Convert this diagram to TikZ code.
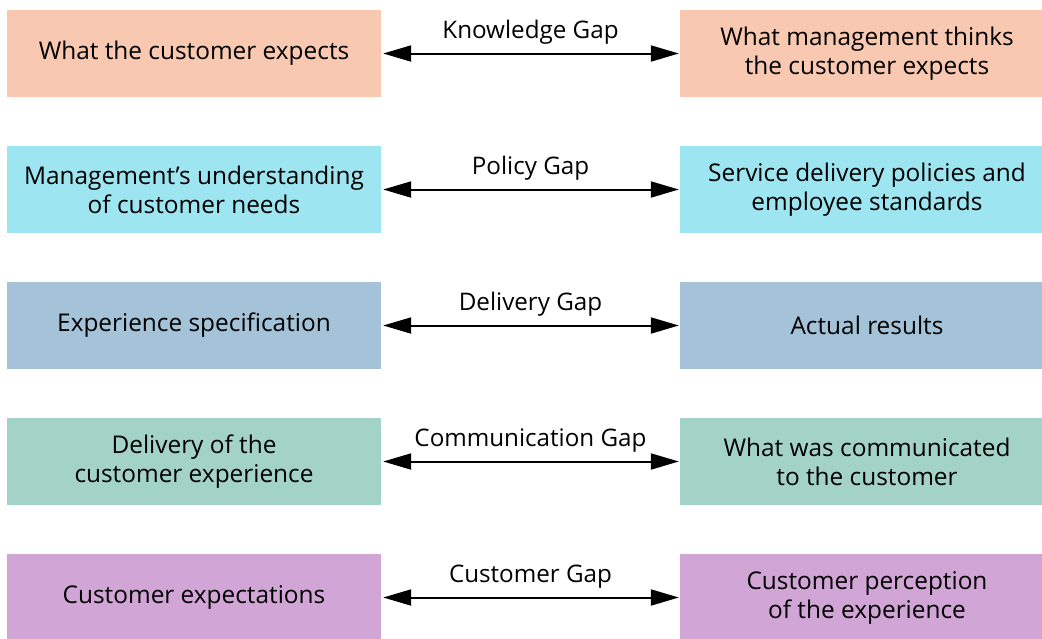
\documentclass[tikz,border=0pt]{standalone}
\usepackage{fontspec}
\setmainfont{Open Sans}
\usetikzlibrary{arrows.meta}
\definecolor{cA}{HTML}{F9C8B0}
\definecolor{cB}{HTML}{9DE5F0}
\definecolor{cC}{HTML}{A4C3D8}
\definecolor{cD}{HTML}{A3D3C7}
\definecolor{cE}{HTML}{D1A5D6}
\tikzset{
  gbox/.style={minimum width=374pt, minimum height=87pt, inner sep=0pt, align=center, font=\fontsize{24.4}{29}\selectfont, text=black},
  gap/.style={{Triangle[length=28pt,width=16pt]}-{Triangle[length=28pt,width=16pt]}, line width=2pt, shorten <=2pt, shorten >=1pt},
  glabel/.style={font=\fontsize{24.2}{28}\selectfont, above, inner sep=0pt}
}
\begin{document}
\begin{tikzpicture}[x=1pt,y=-1pt]
\useasboundingbox[clip] (0,0) rectangle (1042,638);
\node[gbox, fill=cA] (l1) at (194,53.5) {What the customer expects};
\node[gbox, fill=cA] (r1) at (867,53.5) {What management thinks\\the customer expects};
\node[gbox, fill=cB] (l2) at (194,189.5) {Management’s understanding\\of customer needs};
\node[gbox, fill=cB] (r2) at (867,189.5) {Service delivery policies and\\employee standards};
\node[gbox, fill=cC] (l3) at (194,325.5) {Experience specification};
\node[gbox, fill=cC] (r3) at (867,325.5) {Actual results};
\node[gbox, fill=cD] (l4) at (194,461.5) {Delivery of the\\customer experience};
\node[gbox, fill=cD] (r4) at (867,461.5) {What was communicated\\to the customer};
\node[gbox, fill=cE] (l5) at (194,597.5) {Customer expectations};
\node[gbox, fill=cE] (r5) at (867,597.5) {Customer perception\\of the experience};
\draw[gap] (l1.east) -- node[glabel, yshift=8pt] (g1) {Knowledge Gap} (r1.west);
\draw[gap] (l2.east) -- node[glabel, yshift=8pt] (g2) {Policy Gap} (r2.west);
\draw[gap] (l3.east) -- node[glabel, yshift=8pt] (g3) {Delivery Gap} (r3.west);
\draw[gap] (l4.east) -- node[glabel, yshift=8pt] (g4) {Communication Gap} (r4.west);
\draw[gap] (l5.east) -- node[glabel, yshift=8pt] (g5) {Customer Gap} (r5.west);
\end{tikzpicture}
\end{document}
